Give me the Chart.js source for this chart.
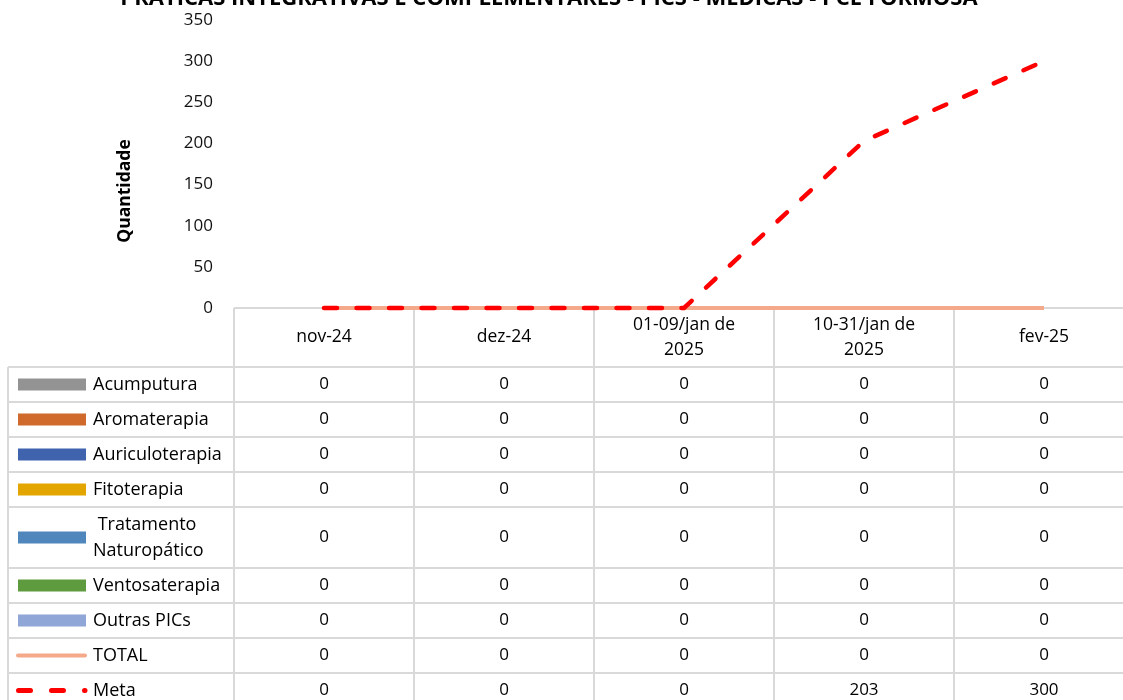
<!DOCTYPE html>
<html>
<head>
<meta charset="utf-8">
<script src="https://cdn.jsdelivr.net/npm/chart.js@4"></script>
<style>
  html, body { margin: 0; padding: 0; background: #fff; }
  body { width: 1123px; height: 700px; overflow: hidden; }
  #wrap { width: 1134px; height: 700px; }
</style>
</head>
<body>
<div id="wrap"><canvas id="picsChart"></canvas></div>
<script>
// Chart data
const categories = [['nov-24'], ['dez-24'], ['01-09/jan de', '2025'], ['10-31/jan de', '2025'], ['fev-25']];
const acumputura = [0, 0, 0, 0, 0];
const aromaterapia = [0, 0, 0, 0, 0];
const auriculoterapia = [0, 0, 0, 0, 0];
const fitoterapia = [0, 0, 0, 0, 0];
const naturopatico = [0, 0, 0, 0, 0];
const ventosaterapia = [0, 0, 0, 0, 0];
const outrasPics = [0, 0, 0, 0, 0];
const total = [0, 0, 0, 0, 0];
const meta = [0, 0, 0, 203, 300];
const yMin = 0, yMax = 350, yStep = 50;

const chartTitle = 'PRÁTICAS INTEGRATIVAS E COMPLEMENTARES - PICS - MÉDICAS - PCE FORMOSA';
const yTitle = 'Quantidade';
const FONT = "'Open Sans', sans-serif";

// Draws the data table (with legend keys) under the plot, plus titles
const tablePlugin = {
    id: 'dataTable',
    beforeDatasetsDraw(chart) {
        const ctx = chart.ctx;
        const area = chart.chartArea;
        ctx.save();
        ctx.strokeStyle = '#d9d9d9';
        ctx.lineWidth = 2;
        const rows = chart.$rows;
        const tableBottom = rows[rows.length - 1].bottom;
        // top border of category area (x axis line)
        ctx.beginPath();
        ctx.moveTo(area.left, area.bottom);
        ctx.lineTo(area.right, area.bottom);
        // row lines
        rows.forEach(r => {
            ctx.moveTo(8, r.top);
            ctx.lineTo(area.right, r.top);
        });
        ctx.moveTo(8, tableBottom);
        ctx.lineTo(area.right, tableBottom);
        // column lines
        const xs = chart.scales.x;
        const colW = xs.getPixelForValue(1) - xs.getPixelForValue(0);
        ctx.moveTo(8, rows[0].top);
        ctx.lineTo(8, tableBottom);
        for (let i = 0; i <= categories.length; i++) {
            const x = xs.getPixelForValue(i) - colW / 2;
            ctx.moveTo(x, area.bottom);
            ctx.lineTo(x, tableBottom);
        }
        ctx.stroke();
        ctx.restore();
    },
    afterDraw(chart) {
        const ctx = chart.ctx;
        const area = chart.chartArea;
        const xs = chart.scales.x;
        const rows = chart.$rows;
        ctx.save();
        ctx.fillStyle = '#000';
        ctx.textAlign = 'center';
        ctx.textBaseline = 'middle';
        ctx.font = '17.5px ' + FONT;

        // header labels
        const headTop = area.bottom, headBottom = rows[0].top;
        categories.forEach((lab, i) => {
            const x = xs.getPixelForValue(i);
            const mid = (headTop + headBottom) / 2;
            const lh = 25;
            lab.forEach((t, k) => {
                ctx.fillText(t, x, mid + (k - (lab.length - 1) / 2) * lh);
            });
        });

        // rows
        chart.data.datasets.forEach((ds, d) => {
            const r = rows[d];
            const mid = (r.top + r.bottom) / 2;
            ctx.textAlign = 'center';
            ctx.font = '17px ' + FONT;
            ds.data.forEach((v, i) => {
                ctx.fillText(String(v), xs.getPixelForValue(i), mid);
            });
            // legend key
            if (ds.type === 'line') {
                ctx.save();
                ctx.strokeStyle = ds.borderColor;
                ctx.lineCap = 'round';
                if (ds.borderDash) {
                    ctx.lineWidth = 5;
                    ctx.setLineDash([12, 21]);
                    ctx.beginPath();
                    ctx.moveTo(18.5, mid);
                    ctx.lineTo(85, mid);
                } else {
                    ctx.lineWidth = 4;
                    ctx.beginPath();
                    ctx.moveTo(18, mid);
                    ctx.lineTo(85, mid);
                }
                ctx.stroke();
                ctx.restore();
            } else {
                ctx.fillStyle = ds.backgroundColor;
                ctx.fillRect(18, mid - 6, 68, 12);
                ctx.fillStyle = '#000';
            }
            ctx.textAlign = 'left';
            ctx.font = '18px ' + FONT;
            const lines = Array.isArray(ds.rowLabel) ? ds.rowLabel : [ds.label];
            lines.forEach((t, k) => {
                ctx.fillText(t, 93, mid + (k - (lines.length - 1) / 2) * 26);
            });
        });

        // y axis title
        ctx.save();
        ctx.font = 'bold 17.5px ' + FONT;
        ctx.textAlign = 'center';
        ctx.translate(125, 191);
        ctx.rotate(-Math.PI / 2);
        ctx.fillText(yTitle, 0, 0);
        ctx.restore();

        // chart title (cut at top)
        let size = 20;
        ctx.font = 'bold ' + size + 'px ' + FONT;
        size = size * 858 / ctx.measureText(chartTitle).width;
        ctx.font = 'bold ' + size + 'px ' + FONT;
        ctx.textAlign = 'center';
        ctx.textBaseline = 'alphabetic';
        ctx.fillText(chartTitle, 549, 5);
        ctx.restore();
    }
};

const barSeries = [
    ['Acumputura', acumputura, '#939393'],
    ['Aromaterapia', aromaterapia, '#d0692c'],
    ['Auriculoterapia', auriculoterapia, '#3f63ad'],
    ['Fitoterapia', fitoterapia, '#e3a600'],
    ['Tratamento Naturopático', naturopatico, '#4f86bc', [' Tratamento', 'Naturopático']],
    ['Ventosaterapia', ventosaterapia, '#5e9a3e'],
    ['Outras PICs', outrasPics, '#8fa6d6']
];

const datasets = barSeries.map(s => ({
    type: 'bar',
    label: s[0],
    rowLabel: s[3],
    data: s[1],
    backgroundColor: s[2],
    borderWidth: 0
}));
datasets.push({
    type: 'line',
    label: 'TOTAL',
    data: total,
    borderColor: '#f4a98a',
    borderWidth: 4,
    pointRadius: 0,
    clip: false,
    order: 1
});
datasets.push({
    type: 'line',
    label: 'Meta',
    data: meta,
    borderColor: '#ff0000',
    borderWidth: 4.5,
    borderDash: [13, 19.5],
    borderCapStyle: 'round',
    pointRadius: 0,
    clip: false,
    order: 0
});

const rowHeights = [59, 35, 35, 35, 35, 61, 35, 35, 35, 35];

const chart = new Chart(document.getElementById('picsChart').getContext('2d'), {
    data: { labels: categories, datasets: datasets },
    plugins: [tablePlugin, {
        id: 'rowLayout',
        afterLayout(c) {
            let y = c.chartArea.bottom + rowHeights[0];
            c.$rows = rowHeights.slice(1).map(h => {
                const r = { top: y, bottom: y + h };
                y += h;
                return r;
            });
        }
    }],
    options: {
        responsive: true,
        maintainAspectRatio: false,
        animation: false,
        layout: { padding: { top: 20, right: 0, bottom: 392, left: 0 } },
        plugins: { legend: { display: false }, tooltip: { enabled: false } },
        scales: {
            x: { display: false, offset: true },
            y: {
                min: yMin,
                max: yMax,
                grid: { display: true, drawOnChartArea: false, drawTicks: true, tickLength: 18, tickColor: 'rgba(0,0,0,0)' },
                border: { display: false },
                ticks: { stepSize: yStep, padding: 3, color: '#111', font: { size: 17, family: FONT } },
                afterFit(s) { s.width = 234; }
            }
        }
    }
});
</script>
</body>
</html>
